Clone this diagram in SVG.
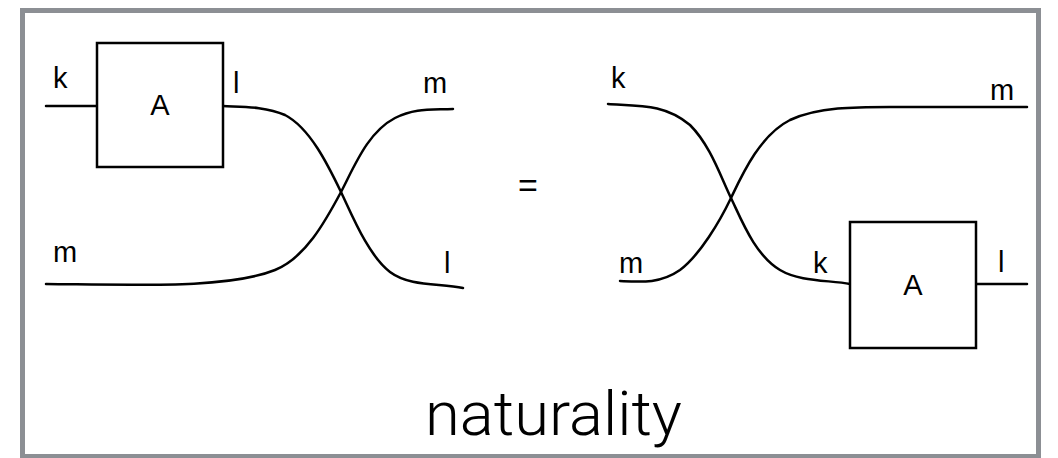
<svg xmlns="http://www.w3.org/2000/svg" width="1058" height="458" viewBox="0 0 1058 458">
<style>
.frame{fill:#fff;stroke:#8c8f94;stroke-width:5}
.box{fill:#fff;stroke:#000;stroke-width:2.5}
.wire{fill:none;stroke:#000;stroke-width:2.5;stroke-linecap:round}
.lbl{font-family:"Liberation Sans",Arial,sans-serif;font-size:29px;fill:#000}
.title{font-family:Roboto,"Liberation Sans",Arial,sans-serif;font-weight:300;font-size:62px;fill:#000}
</style>
<rect class="frame" x="22.5" y="10.5" width="1016" height="446"/>
<g id="connectors">
  <path class="wire" d="M46,106 L97,106"/>
  <path class="wire" d="M223,106 C240,107 265,106 285,115 C310,128 328,165 341,192 C352,215 368,255 390,272 C410,287 440,283 463,288"/>
  <path class="wire" d="M46,284 C150,285 230,288 275,270 C305,258 325,222 341,192 C355,165 368,132 395,118 C415,108 430,110 453,109"/>
  <path class="wire" d="M608,104 C640,106 665,104 690,125 C710,145 720,175 731,198 C742,221 755,255 780,270 C800,282 830,280 850,284"/>
  <path class="wire" d="M620,281 C640,282 660,284 680,270 C700,255 720,221 731,198 C742,175 760,135 790,120 C820,106 860,107 900,107 L1027,107"/>
  <path class="wire" d="M976,284 L1027,284"/>
</g>
<g id="nodeA-left">
  <rect class="box" x="97" y="43" width="126" height="124"/>
  <text class="lbl" x="160" y="115" text-anchor="middle">A</text>
</g>
<g id="nodeA-right">
  <rect class="box" x="850" y="222" width="126" height="126"/>
  <text class="lbl" x="913" y="295" text-anchor="middle">A</text>
</g>
<g id="labels">
  <text class="lbl" x="53" y="88">k</text>
  <text class="lbl" x="233" y="93">l</text>
  <text class="lbl" x="423" y="93">m</text>
  <text class="lbl" x="53" y="262">m</text>
  <text class="lbl" x="444" y="273">l</text>
  <text class="lbl" x="611" y="88">k</text>
  <text class="lbl" x="990" y="100">m</text>
  <text class="lbl" x="619" y="273">m</text>
  <text class="lbl" x="813" y="273">k</text>
  <text class="lbl" x="998" y="272">l</text>
</g>
<g id="equals">
  <text class="lbl" x="528" y="197" text-anchor="middle" style="font-size:34px">=</text>
</g>
<g id="title">
  <text class="title" x="425" y="435" textLength="257" lengthAdjust="spacingAndGlyphs">naturality</text>
</g>
</svg>
